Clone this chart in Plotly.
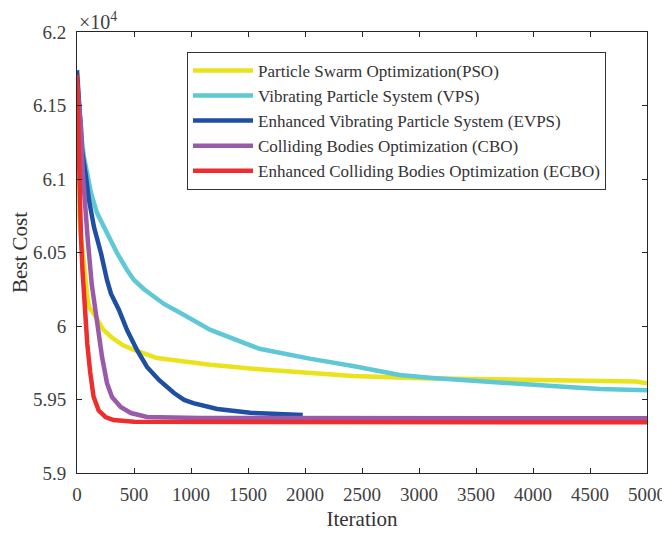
import plotly.graph_objects as go

# ---- data (Best Cost vs Iteration) ----
it_pso = [0, 5, 15, 30, 44, 61, 88, 105, 167, 230, 300, 400, 500, 702, 939, 1170, 1600, 2040, 2420, 3000, 3500, 4000, 4500, 4900, 5000]
pso = [61300, 61000, 60800, 60650, 60537, 60449, 60224, 60130, 60061, 59975, 59925, 59870, 59837, 59782, 59755, 59736, 59705, 59682, 59660, 59645, 59637, 59630, 59625, 59622, 59610]

it_vps = [0, 20, 40, 61, 90, 123, 175, 263, 351, 439, 500, 588, 763, 939, 1170, 1600, 2040, 2420, 2830, 3120, 3420, 3710, 4000, 4300, 4590, 5000]
vps = [61700, 61450, 61280, 61150, 61030, 60905, 60770, 60633, 60497, 60381, 60313, 60250, 60150, 60075, 59973, 59845, 59778, 59728, 59667, 59647, 59630, 59612, 59598, 59585, 59571, 59563]

it_evps = [0, 20, 44, 79, 105, 149, 210, 263, 298, 368, 439, 526, 614, 719, 851, 940, 1020, 1230, 1520, 1980]
evps = [61740, 61450, 61197, 61015, 60857, 60673, 60497, 60313, 60220, 60109, 59973, 59837, 59721, 59633, 59544, 59497, 59475, 59435, 59410, 59394]

it_cbo = [0, 20, 35, 50, 70, 95, 130, 176, 220, 263, 307, 383, 473, 614, 1080, 5000]
cbo = [61650, 61500, 61354, 61050, 60800, 60580, 60280, 60020, 59789, 59612, 59517, 59449, 59408, 59381, 59374, 59372]

it_ecbo = [0, 10, 22, 35, 48, 61, 75, 90, 115, 145, 190, 250, 320, 500, 5000]
ecbo = [61707, 61300, 60900, 60600, 60380, 60200, 60030, 59880, 59690, 59520, 59425, 59381, 59360, 59348, 59345]

names = ["Particle Swarm Optimization(PSO)",
         "Vibrating Particle System (VPS)",
         "Enhanced Vibrating Particle System (EVPS)",
         "Colliding Bodies Optimization (CBO)",
         "Enhanced Colliding Bodies Optimization (ECBO)"]
colors = ["#EAE31C", "#5EC8D7", "#1F4FA3", "#9A5AAA", "#EC2E2E"]

y_ticks = [59000, 59500, 60000, 60500, 61000, 61500, 62000]
y_ticktext = ["5.9", "5.95", "6", "6.05", "6.1", "6.15", "6.2"]
x_ticks = [0, 500, 1000, 1500, 2000, 2500, 3000, 3500, 4000, 4500, 5000]

series = [(it_pso, pso), (it_vps, vps), (it_evps, evps), (it_cbo, cbo), (it_ecbo, ecbo)]

fig = go.Figure()
for (xs, ys), n, c in zip(series, names, colors):
    fig.add_trace(go.Scatter(x=xs, y=ys, mode="lines", name=n,
                             line=dict(color=c, width=4.5)))

font_family = "Liberation Serif"
axis_common = dict(showline=True, linecolor="#262626", linewidth=1, mirror="ticks",
                   ticks="inside", ticklen=5, tickcolor="#262626", showgrid=False,
                   zeroline=False, automargin=False,
                   tickfont=dict(family=font_family, size=19, color="#404040"))

fig.update_layout(
    width=670, height=533,
    margin=dict(l=69, r=31, t=24, b=68),
    paper_bgcolor="white", plot_bgcolor="white",
    font=dict(family=font_family, color="#333333"),
    xaxis=dict(range=[0, 5000], tickvals=x_ticks, ticklabelstandoff=4,
               title=dict(text="Iteration", font=dict(family=font_family, size=21, color="#333333"), standoff=7),
               **axis_common),
    yaxis=dict(range=[59000, 62000], tickvals=y_ticks, ticktext=y_ticktext, ticklabelstandoff=6,
               title=dict(text="Best Cost", font=dict(family=font_family, size=21, color="#333333"), standoff=6),
               **axis_common),
    legend=dict(x=0.193, y=0.955, xanchor="left", yanchor="top",
                bgcolor="white", bordercolor="#333333", borderwidth=1,
                font=dict(family=font_family, size=17, color="#333333"),
                itemwidth=60, tracegroupgap=0),
    showlegend=True,
)

fig.add_annotation(x=0, y=1, xref="paper", yref="paper", xanchor="left", yanchor="bottom",
                   text="×10<sup>4</sup>", showarrow=False,
                   font=dict(family=font_family, size=20, color="#404040"), yshift=-3)

fig.write_html("out.html")
